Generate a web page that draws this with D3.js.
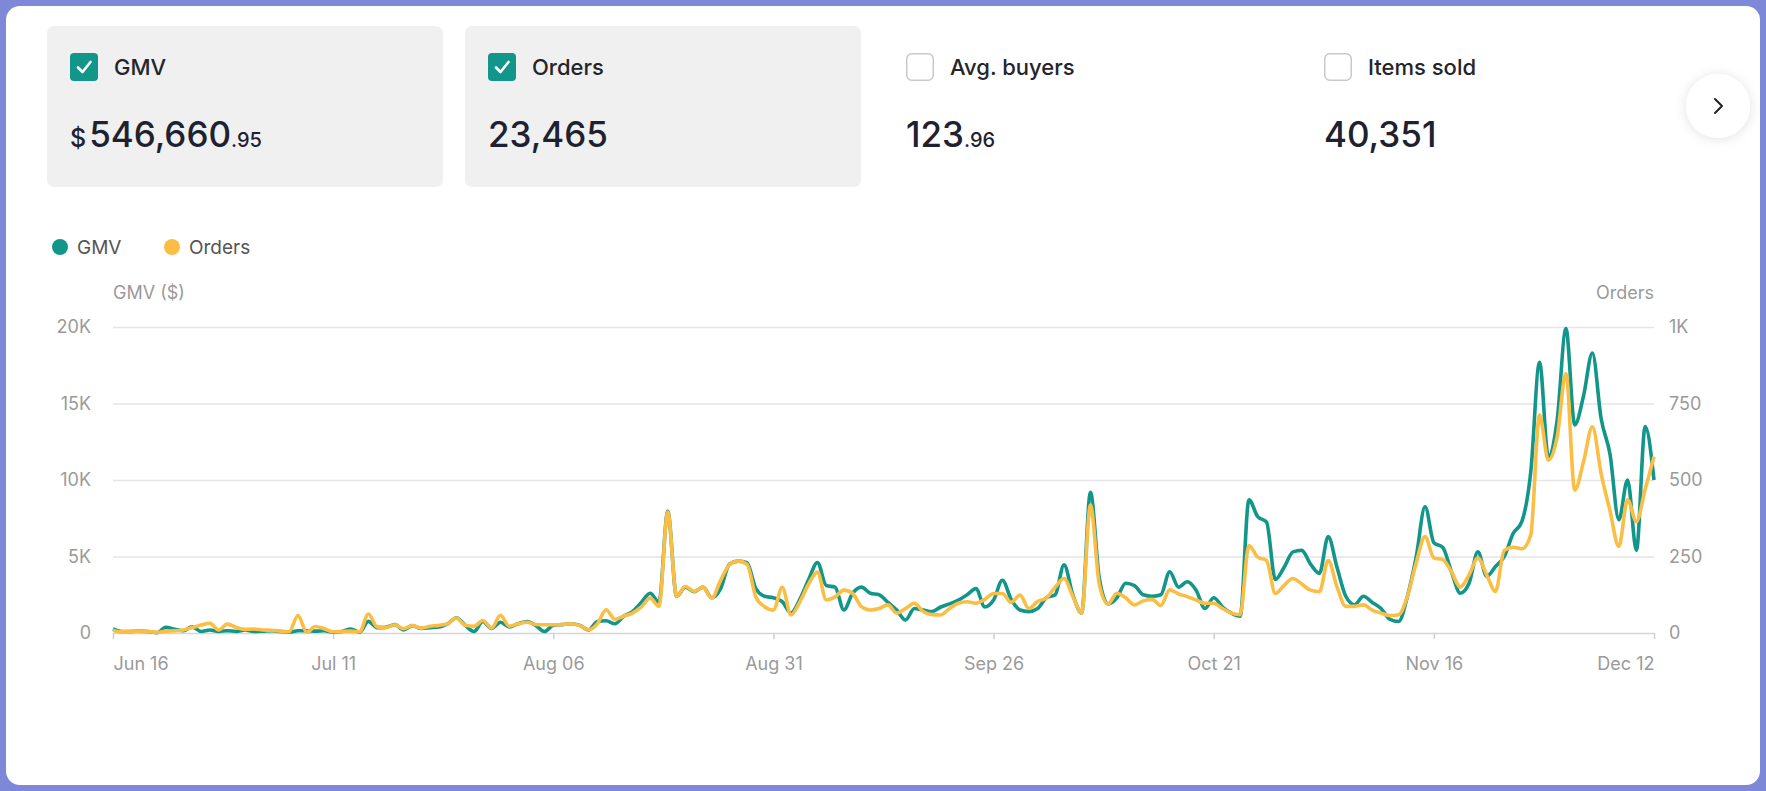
<!DOCTYPE html>
<html>
<head>
<meta charset="utf-8">
<script src="https://cdn.jsdelivr.net/npm/d3@7"></script>
<style>
  html, body { margin: 0; padding: 0; background: #7d88d8; }
  svg { display: block; font-family: Inter, "Noto Sans", sans-serif; }
</style>
</head>
<body>
<div id="viz"></div>
<script>
// summary cards
const cardLabels = ['GMV', 'Orders', 'Avg. buyers', 'Items sold']
const cardChecked = [true, true, false, false]
const cardPrefix = ['$', '', '', '']
const cardMain = ['546,660', '23,465', '123', '40,351']
const cardDecimals = ['.95', '', '.96', '']

// x axis labels, one every 25 points
const xTickIndex = [0, 25, 50, 75, 100, 125, 150, 175]
const xTickLabels = ['Jun 16', 'Jul 11', 'Aug 06', 'Aug 31', 'Sep 26', 'Oct 21', 'Nov 16', 'Dec 12']

const gmvTicks = [0, 5000, 10000, 15000, 20000]
const orderTicks = [0, 250, 500, 750, 1000]

// daily GMV in $K
const gmvK = [
  0.26, 0.10, 0.10, 0.12, 0.10, 0.02, 0.37, 0.25, 0.15, 0.40,
  0.10, 0.20, 0.10, 0.15, 0.10, 0.20, 0.10, 0.12, 0.15, 0.10,
  0.05, 0.15, 0.15, 0.12, 0.15, 0.05, 0.10, 0.26, 0.05, 0.76,
  0.35, 0.37, 0.55, 0.20, 0.48, 0.30, 0.35, 0.40, 0.60, 1.00,
  0.50, 0.10, 0.75, 0.30, 0.70, 0.40, 0.60, 0.75, 0.50, 0.10,
  0.50, 0.55, 0.60, 0.50, 0.20, 0.75, 0.80, 0.60, 1.10, 1.40,
  2.00, 2.60, 2.00, 7.95, 2.40, 3.00, 2.70, 3.00, 2.30, 2.90,
  4.50, 4.70, 4.60, 2.90, 2.40, 2.30, 2.05, 1.30, 2.20, 3.50,
  4.60, 3.10, 3.00, 1.50, 2.60, 3.00, 2.60, 2.50, 2.00, 1.50,
  0.85, 1.60, 1.50, 1.40, 1.70, 1.90, 2.15, 2.50, 2.90, 1.70,
  2.15, 3.45, 2.20, 1.50, 1.40, 1.60, 2.30, 2.50, 4.45, 2.50,
  1.30, 9.20, 3.60, 1.90, 2.30, 3.25, 3.10, 2.50, 2.40, 2.50,
  4.00, 3.00, 3.35, 2.80, 1.60, 2.30, 1.70, 1.30, 1.10, 8.70,
  7.60, 7.25, 3.50, 4.30, 5.30, 5.40, 4.50, 3.90, 6.30, 4.30,
  2.40, 1.85, 2.40, 2.00, 1.60, 0.90, 0.75, 2.40, 5.00, 8.25,
  5.90, 5.60, 4.00, 2.60, 3.25, 5.30, 3.70, 4.35, 5.00, 6.50,
  7.30, 10.50, 17.70, 11.50, 13.90, 19.90, 13.60, 15.50, 18.30, 14.00,
  11.70, 7.40, 10.00, 5.40, 13.50, 10.00
]

// daily orders
const orders = [
  8, 4, 5, 6, 5, 2, 6, 7, 10, 18,
  26, 32, 10, 29, 18, 12, 13, 10, 9, 6,
  4, 57, 3, 21, 14, 4, 5, 6, 4, 62,
  20, 18, 27, 14, 24, 16, 22, 25, 30, 49,
  25, 22, 41, 16, 58, 22, 30, 35, 28, 27,
  27, 28, 30, 24, 11, 30, 76, 45, 55, 65,
  85, 114, 87, 395, 120, 152, 136, 150, 114, 172,
  223, 235, 225, 118, 86, 75, 149, 59, 102, 160,
  199, 108, 118, 140, 129, 86, 75, 80, 92, 65,
  80, 97, 70, 60, 59, 80, 97, 102, 97, 110,
  129, 129, 100, 124, 80, 103, 114, 150, 178, 120,
  65, 418, 160, 95, 130, 115, 92, 105, 110, 90,
  141, 128, 119, 108, 97, 97, 80, 65, 60, 286,
  248, 237, 129, 156, 178, 160, 140, 135, 237, 151,
  87, 87, 92, 75, 65, 57, 60, 120, 230, 315,
  245, 240, 200, 150, 190, 245, 190, 136, 270, 280,
  275, 320, 712, 565, 640, 848, 467, 560, 674, 520,
  400, 283, 435, 364, 470, 576
]

const teal = '#12968a'
const gold = '#fbbe45'

let fullWidth = 1766
let fullHeight = 791

const svg = d3.select('#viz').append('svg')
  .attr('width', fullWidth).attr('height', fullHeight)

const defs = svg.append('defs')
defs.append('filter').attr('id', 'shadow')
  .attr('x', '-50%').attr('y', '-50%').attr('width', '200%').attr('height', '200%')
  .append('feDropShadow')
  .attr('dx', 0).attr('dy', 1).attr('stdDeviation', 6)
  .attr('flood-color', '#000').attr('flood-opacity', 0.12)

// white panel inside the frame
svg.append('rect')
  .attr('x', 6).attr('y', 6).attr('width', fullWidth - 12).attr('height', fullHeight - 12)
  .attr('rx', 14).attr('fill', '#fff')

// ---- cards ----
const cardX = [47, 465, 883, 1301]
const cards = svg.append('g').attr('class', 'cards')
cardLabels.forEach((label, i) => {
  let g = cards.append('g').attr('transform', `translate(${cardX[i]},26)`)
  if (cardChecked[i]) {
    g.append('rect').attr('width', 396).attr('height', 161).attr('rx', 7).attr('fill', '#f0f0f0')
  }
  let box = g.append('g').attr('transform', 'translate(23,27)')
  if (cardChecked[i]) {
    box.append('rect').attr('width', 28).attr('height', 28).attr('rx', 4).attr('fill', teal)
    box.append('path').attr('d', 'M8,14.5 L12.5,19 L20.5,9')
      .attr('fill', 'none').attr('stroke', '#fff').attr('stroke-width', 2.6)
      .attr('stroke-linecap', 'round').attr('stroke-linejoin', 'round')
  } else {
    box.append('rect').attr('x', 0.75).attr('y', 0.75).attr('width', 26.5).attr('height', 26.5).attr('rx', 5)
      .attr('fill', '#fff').attr('stroke', '#c9c9c9').attr('stroke-width', 1.5)
  }
  g.append('text').attr('x', 67).attr('y', 49)
    .attr('font-size', 22).attr('font-weight', 500).attr('fill', '#23252b')
    .text(label)
  let v = g.append('text').attr('x', 23).attr('y', 121).attr('fill', '#1e2130').attr('font-weight', 500)
  if (cardPrefix[i]) v.append('tspan').attr('font-size', 25).text(cardPrefix[i])
  v.append('tspan').attr('font-size', 35).attr('dx', cardPrefix[i] ? 3 : 0).text(cardMain[i])
  if (cardDecimals[i]) v.append('tspan').attr('font-size', 20).text(cardDecimals[i])
})

// next button
const btn = svg.append('g').attr('transform', 'translate(1718,106)')
btn.append('circle').attr('r', 32).attr('fill', '#fff').attr('filter', 'url(#shadow)')
btn.append('path').attr('d', 'M-3,-7 L4,0 L-3,7')
  .attr('fill', 'none').attr('stroke', '#222').attr('stroke-width', 2).attr('stroke-linecap', 'round').attr('stroke-linejoin', 'round')

// ---- chart ----
const margin = { top: 327, left: 113, right: 1654, bottom: 633 }

const x = d3.scaleLinear().domain([0, gmvK.length - 1]).range([margin.left, margin.right])
const yL = d3.scaleLinear().domain([0, 20000]).range([margin.bottom, margin.top])
const yR = d3.scaleLinear().domain([0, 1000]).range([margin.bottom, margin.top])

const gmv = gmvK.map(d => d * 1000)

// gridlines
svg.append('g')
  .attr('transform', `translate(${margin.left},0)`)
  .call(d3.axisRight(yL).tickValues(gmvTicks).tickSize(margin.right - margin.left).tickFormat(''))
  .call(g => g.select('.domain').remove())
  .call(g => g.selectAll('line').attr('stroke', d => d === 0 ? '#d6d6d6' : '#e5e5e5').attr('stroke-width', 1.6))

const tickStyle = g => {
  g.select('.domain').remove()
  g.selectAll('text').attr('fill', '#9a9a9a').attr('font-size', 18).attr('font-family', 'Inter, sans-serif')
}

svg.append('g')
  .attr('transform', `translate(${margin.left},0)`)
  .call(d3.axisLeft(yL).tickValues(gmvTicks).tickSize(0).tickPadding(22)
    .tickFormat(d => d === 0 ? '0' : d / 1000 + 'K'))
  .call(tickStyle)

svg.append('g')
  .attr('transform', `translate(${margin.right},0)`)
  .call(d3.axisRight(yR).tickValues(orderTicks).tickSize(0).tickPadding(15)
    .tickFormat(d => d === 1000 ? '1K' : d))
  .call(tickStyle)

svg.append('g')
  .attr('transform', `translate(0,${margin.bottom})`)
  .call(d3.axisBottom(x).tickValues(xTickIndex).tickSize(6).tickPadding(18)
    .tickFormat((d, i) => xTickLabels[i]))
  .call(tickStyle)
  .call(g => g.selectAll('line').attr('stroke', '#cfcfcf').attr('stroke-width', 1.5))
  .call(g => g.selectAll('text')
    .attr('text-anchor', (d, i) => i === 0 ? 'start' : (i === xTickIndex.length - 1 ? 'end' : 'middle')))

// axis titles
svg.append('text').attr('x', margin.left).attr('y', 299)
  .attr('font-size', 18).attr('fill', '#9a9a9a').text('GMV ($)')
svg.append('text').attr('x', margin.right).attr('y', 299).attr('text-anchor', 'end')
  .attr('font-size', 18).attr('fill', '#9a9a9a').text('Orders')

// legend
const legend = svg.append('g').attr('class', 'legend')
;[['GMV', teal, 60], ['Orders', gold, 172]].forEach(([name, color, lx]) => {
  legend.append('circle').attr('cx', lx).attr('cy', 247).attr('r', 8).attr('fill', color)
  legend.append('text').attr('x', lx + 17).attr('y', 254)
    .attr('font-size', 19).attr('fill', '#555').text(name)
})

// lines
const gmvLine = d3.line().x((d, i) => x(i)).y(d => yL(d)).curve(d3.curveMonotoneX)
const ordLine = d3.line().x((d, i) => x(i)).y(d => yR(d)).curve(d3.curveMonotoneX)

svg.append('path').datum(gmv)
  .attr('d', gmvLine).attr('fill', 'none').attr('stroke', teal)
  .attr('stroke-width', 3.6).attr('stroke-linejoin', 'round')

svg.append('path').datum(orders)
  .attr('d', ordLine).attr('fill', 'none').attr('stroke', gold)
  .attr('stroke-width', 3.6).attr('stroke-linejoin', 'round')
</script>
</body>
</html>
